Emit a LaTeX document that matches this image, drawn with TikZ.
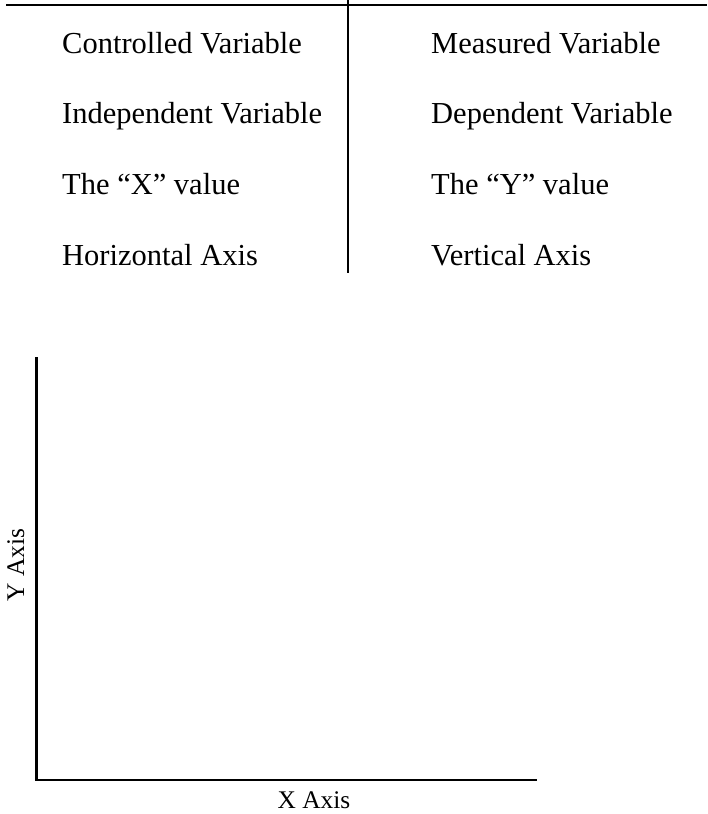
\documentclass[tikz,border=0pt]{standalone}
\usepackage{fontspec}
\setmainfont{Liberation Serif}
\begin{document}
\begin{tikzpicture}[x=1pt,y=-1pt,
  entry/.style={anchor=base west,inner sep=0pt,font=\fontsize{30.5}{36}\selectfont},
  axislabel/.style={inner sep=0pt,font=\fontsize{25.4}{30}\selectfont},
  rule/.style={line width=2pt},
  axisline/.style={line width=2.6pt}]
\useasboundingbox (0,0) rectangle (707,814);
% T-chart rules
\coordinate (tl) at (6,5);
\coordinate (tr) at (707,5);
\coordinate (vt) at (347.5,0);
\coordinate (vb) at (347.5,273);
\draw[rule] (tl) -- (tr);
\draw[rule] (vt) -- (vb);
% left column
\node[entry] (l1) at (62,53) {Controlled Variable};
\node[entry] (l2) at (62,123.5) {Independent Variable};
\node[entry] (l3) at (62,194.5) {The “X” value};
\node[entry] (l4) at (62,265) {Horizontal Axis};
% right column
\node[entry] (r1) at (431,53) {Measured Variable};
\node[entry] (r2) at (431,123.5) {Dependent Variable};
\node[entry] (r3) at (431,194.5) {The “Y” value};
\node[entry] (r4) at (431,265) {Vertical Axis};
% empty graph axes
\coordinate (ytop) at (36.5,357);
\coordinate (origin) at (36.5,780);
\coordinate (xend) at (537,780);
\draw[axisline,line join=miter] (ytop) -- (origin) -- (xend);
\node[axislabel,anchor=base] (xlab) at (314,808) {X Axis};
\node[axislabel,anchor=base,rotate=90] (ylab) at (24,565) {Y Axis};
\end{tikzpicture}
\end{document}
